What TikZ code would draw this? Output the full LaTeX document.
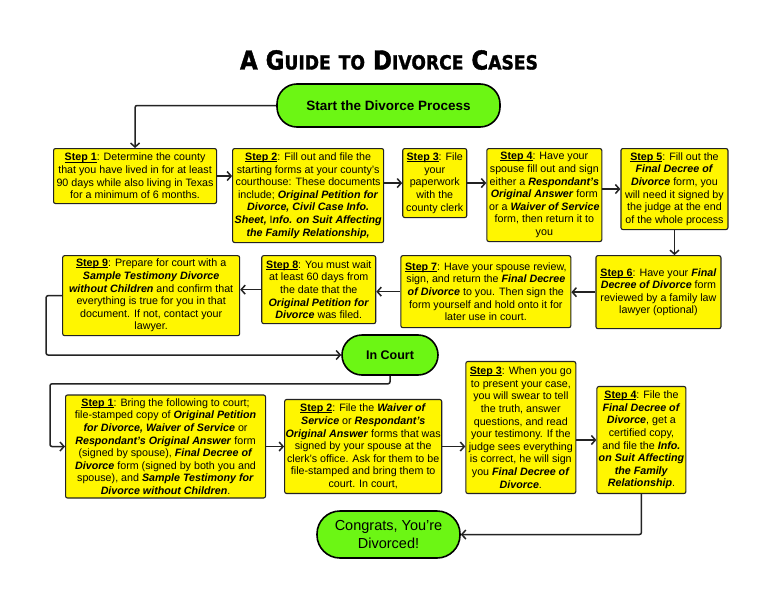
\documentclass[tikz,border=0pt]{standalone}
\usepackage{fontspec}
\setmainfont{Liberation Sans}
\newfontfamily\titlefont{DejaVu Sans}[BoldFeatures={FakeBold=1.6}]
\usetikzlibrary{arrows.meta, positioning, calc}
\definecolor{boxyellow}{RGB}{255,246,0}
\definecolor{pillgreen}{RGB}{108,246,20}
\definecolor{mydark}{RGB}{35,35,35}
\newcommand{\bi}[1]{\textbf{\textit{#1}}}
\newcommand{\uline}[1]{\setbox0\hbox{#1}\rlap{\rule[-1.3pt]{\wd0}{0.75pt}}\box0}
\newcommand{\stepno}[1]{\uline{\textbf{Step #1}}}
\newcommand{\smc}{\fontsize{19.5}{19.5}\selectfont}
\tikzset{
  stepbox/.style={rectangle, draw=mydark, fill=boxyellow, align=center,
    font=\fontsize{10.7}{12.6}\selectfont, rounded corners=2pt,
    line width=1.1pt, inner sep=1pt},
  pill/.style={rectangle, draw=black, fill=pillgreen, align=center,
    rounded corners=20pt, line width=1.6pt},
  arrow/.style={-{Straight Barb[length=4pt,width=9pt]}, line width=1.5pt,
    color=mydark, rounded corners=2pt},
  titletext/.style={font=\titlefont\bfseries\fontsize{26}{26}\selectfont}
}

\begin{document}
\begin{tikzpicture}[x=1pt, y=-1pt]
  \useasboundingbox[fill=white] (0,0) rectangle (768,594);

  \node[titletext] (title) at (389,60)
    {\scalebox{0.88}[1]{A G{\smc UIDE} {\smc TO} D{\smc IVORCE} C{\smc ASES}}};
  \node[pill, minimum width=223pt, minimum height=43pt,
    font=\fontsize{13.5}{16}\selectfont\bfseries] (start) at (388.5,105.5)
    {Start the Divorce Process};

  % first row, left to right
  \node[stepbox, minimum width=163pt, minimum height=55pt, anchor=north west] (step1) at (53,148)
    {\stepno{1}: Determine the county\\ that you have lived in for at least\\
     90 days while also living in Texas\\ for a minimum of 6 months.};
  \node[stepbox, minimum width=151pt, minimum height=94pt,
    below right=0pt and 15pt of step1.north east] (step2)
    {\stepno{2}: Fill out and file the\\ starting forms at your county's\\
     courthouse: These documents\\ include; \bi{Original Petition for}\\
     \bi{Divorce, Civil Case Info.}\\ \bi{Sheet,} I\bi{nfo. on Suit Affecting}\\
     \bi{the Family Relationship,}};
  \node[stepbox, minimum width=64pt, minimum height=69pt,
    below right=0pt and 18pt of step2.north east] (step3)
    {\stepno{3}: File\\ your\\ paperwork\\ with the\\ county clerk};
  \node[stepbox, minimum width=115pt, minimum height=93pt,
    below right=0pt and 19pt of step3.north east] (step4)
    {\stepno{4}: Have your\\ spouse fill out and sign\\ either a \bi{Respondant's}\\
     \bi{Original Answer} form\\ or a \bi{Waiver of Service}\\
     form, then return it to\\ you};
  \node[stepbox, minimum width=107pt, minimum height=81pt,
    below right=0pt and 18pt of step4.north east] (step5)
    {\stepno{5}: Fill out the\\ \bi{Final Decree of}\\ \bi{Divorce} form, you\\
     will need it signed by\\ the judge at the end\\ of the whole process};

  % second row, right to left
  \node[stepbox, minimum width=125pt, minimum height=73pt,
    below left=25pt and 7pt of step5.south east] (step6)
    {\stepno{6}: Have your \bi{Final}\\ \bi{Decree of Divorce} form\\
     reviewed by a family law\\ lawyer (optional)};
  \node[stepbox, minimum width=170pt, minimum height=72pt,
    below left=0pt and 24pt of step6.north west] (step7)
    {\stepno{7}: Have your spouse review,\\ sign, and return the \bi{Final Decree}\\
     \bi{of Divorce} to you. Then sign the\\ form yourself and hold onto it for\\
     later use in court.};
  \node[stepbox, minimum width=114pt, minimum height=68pt,
    below left=0pt and 24pt of step7.north west] (step8)
    {\stepno{8}: You must wait\\ at least 60 days from\\ the date that the\\
     \bi{Original Petition for}\\ \bi{Divorce} was filed.};
  \node[stepbox, minimum width=177pt, minimum height=80pt,
    below left=0pt and 21pt of step8.north west] (step9)
    {\stepno{9}: Prepare for court with a\\ \bi{Sample Testimony Divorce}\\
     \bi{without Children} and confirm that\\ everything is true for you in that\\
     document. If not, contact your\\ lawyer.};

  \node[pill, minimum width=96pt, minimum height=40pt,
    font=\fontsize{12.5}{15}\selectfont\bfseries] (court) at (390,355) {In Court};

  % third row
  \node[stepbox, minimum width=200pt, minimum height=103pt, anchor=west] (cstep1) at (65,446.5)
    {\stepno{1}: Bring the following to court;\\ file-stamped copy of \bi{Original Petition}\\
     \bi{for Divorce, Waiver of Service} or\\ \bi{Respondant's Original Answer} form\\
     (signed by spouse), \bi{Final Decree of}\\ \bi{Divorce} form (signed by both you and\\
     spouse), and \bi{Sample Testimony for}\\ \bi{Divorce without Children}.};
  \node[stepbox, minimum width=157pt, minimum height=94pt,
    right=18pt of cstep1] (cstep2)
    {\stepno{2}: File the \bi{Waiver of}\\ \bi{Service} or \bi{Respondant's}\\
     \bi{Original Answer} forms that was\\ signed by your spouse at the\\
     clerk's office. Ask for them to be\\ file-stamped and bring them to\\ court. In court,};
  \node[stepbox, minimum width=110pt, minimum height=132pt,
    above right=0pt and 23pt of cstep2.south east] (cstep3)
    {\stepno{3}: When you go\\ to present your case,\\ you will swear to tell\\
     the truth, answer\\ questions, and read\\ your testimony. If the\\
     judge sees everything\\ is correct, he will sign\\ you \bi{Final Decree of}\\
     \bi{Divorce}.};
  \node[stepbox, minimum width=89pt, minimum height=107pt,
    above right=0pt and 20pt of cstep3.south east] (cstep4)
    {\stepno{4}: File the\\ \bi{Final Decree of}\\ \bi{Divorce}, get a\\ certified copy,\\
     and file the \bi{Info.}\\ \bi{on Suit Affecting}\\ \bi{the Family}\\ \bi{Relationship}.};

  \node[pill, minimum width=143pt, minimum height=47pt, rounded corners=23pt,
    font=\fontsize{14.5}{18}\selectfont] (done) at (388.5,534.5)
    {Congrats, You're\\ Divorced!};

  \draw[arrow] (start.west) -| (step1.north);
  \draw[arrow] (step1.east) -- (step1.east -| step2.west);
  \draw[arrow] (step3.west -| step2.east) -- (step3.west);
  \draw[arrow] (step3.east) -- (step3.east -| step4.west);
  \draw[arrow] (step5.west -| step4.east) -- (step5.west);
  \draw[arrow] (step5.south) -- (step5.south |- step6.north);
  \draw[arrow] (step6.west) -- (step6.west -| step7.east);
  \draw[arrow] (step7.west) -- (step7.west -| step8.east);
  \draw[arrow] (step8.west) -- (step8.west -| step9.east);
  \draw[arrow] (step9.west) -- ++(-16,0) |- (court.west);
  \draw[arrow] (court.south) -- ++(0,8) -| ($(cstep1.west)+(-15,0)$) -- (cstep1.west);
  \draw[arrow] (cstep1.east) -- (cstep1.east -| cstep2.west);
  \draw[arrow] (cstep2.east) -- (cstep2.east -| cstep3.west);
  \draw[arrow] (cstep4.west -| cstep3.east) -- (cstep4.west);
  \draw[arrow] (cstep4.south) |- (done.east);
\end{tikzpicture}
\end{document}
